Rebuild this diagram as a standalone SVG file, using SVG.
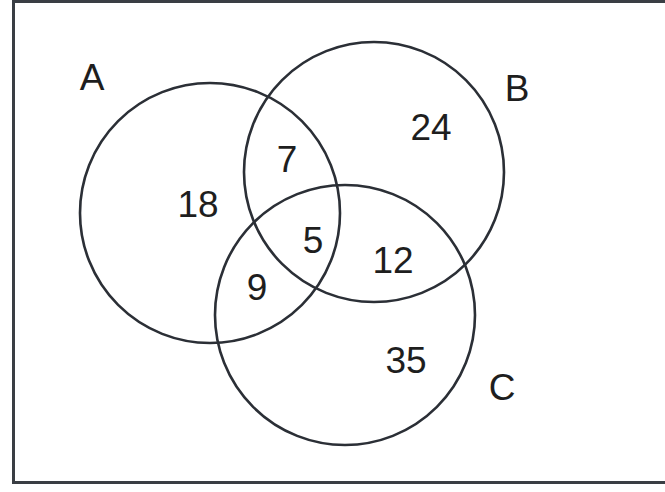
<svg xmlns="http://www.w3.org/2000/svg" width="665" height="492" viewBox="0 0 665 492">
<style>
.c{fill:none;stroke:#2b2f36;stroke-width:2.6}
.t{font-family:"Liberation Sans",Arial,sans-serif;font-size:37px;fill:#1e1e1e;text-anchor:middle}
</style>
<rect width="665" height="492" fill="#ffffff"/>
<rect x="13.5" y="1.5" width="700" height="481" fill="none" stroke="#3a3e44" stroke-width="3"/>
<g id="setA"><circle class="c" cx="210" cy="213" r="130"/><text class="t" x="92" y="90">A</text></g>
<g id="setB"><circle class="c" cx="374" cy="172" r="130"/><text class="t" x="517" y="101">B</text></g>
<g id="setC"><circle class="c" cx="345" cy="315" r="130"/><text class="t" x="502" y="400">C</text></g>
<g id="regions">
<text class="t" x="198" y="217">18</text>
<text class="t" x="287" y="172">7</text>
<text class="t" x="313" y="253">5</text>
<text class="t" x="257" y="300">9</text>
<text class="t" x="431" y="140">24</text>
<text class="t" x="393" y="273">12</text>
<text class="t" x="406" y="373">35</text>
</g>
<g id="connectors"/>
</svg>
